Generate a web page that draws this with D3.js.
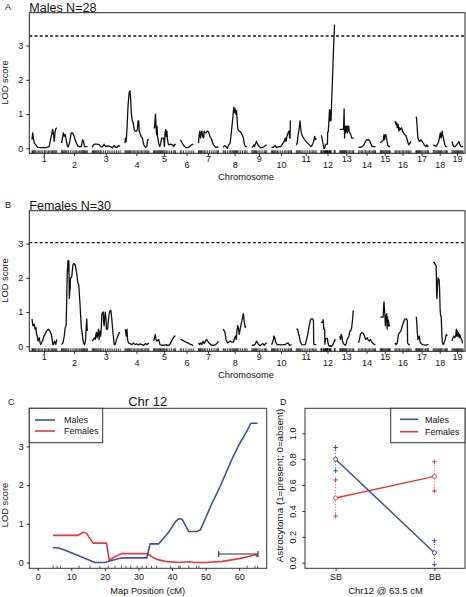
<!DOCTYPE html>
<html><head><meta charset="utf-8">
<script src="https://cdn.jsdelivr.net/npm/d3@7"></script>
<style>
body{margin:0;background:#fff}
svg{display:block}
text{font-family:"Liberation Sans",Arial,Helvetica,sans-serif;fill:#111}
</style>
</head><body><svg id="c" width="466" height="597"></svg>
<script>
// ---------------- DATA ----------------
const chromosomes = ["1","2","3","4","5","6","7","8","9","10","11","12","13","14","15","16","17","18","19"];
const chrLengths  = [108,113,122,104,96,58,87,104,65,87,87,60.9,61,74,43,70,55,61,48];
const chrFirst    = [0,0,0,0,0,0,0,0,0,0,0,4.6,0,0,0,0,0,0,0];
const chrGap = 21;

// Chr 12 detail (panel C)
const chr12Markers = [4.6,5.8,6.8,12.3,15.6,18.5,21,23,25,26.3,27.7,29.6,31.1,32.4,33.9,35.4,39.6,42,42.4,45,47.3,48,62.4,64.7,65.5];
const chr12Males = [[4.6,0.38],[6,0.38],[8,0.32],[10,0.25],[12,0.18],[14,0.11],[16.5,0.02],[17,0],[20,0],[22,0.05],[24.5,0.11],[26,0.12],[30,0.12],[32.5,0.12],[33.5,0.48],[36,0.48],[39,0.78],[41,1.05],[42,1.13],[43,1.12],[45,0.8],[47.5,0.8],[48.5,0.85],[50,1.15],[52,1.55],[54,1.9],[56,2.3],[58,2.7],[60,3.05],[62,3.35],[63.5,3.6],[65.5,3.6]];
const chr12Females = [[4.6,0.7],[8,0.7],[12,0.7],[13.5,0.78],[14.5,0.76],[16.5,0.5],[20.5,0.5],[21.3,0.06],[23,0.15],[25,0.23],[32.5,0.23],[34,0.15],[35.5,0.08],[38,0.03],[42,0.0],[45,0.02],[47,0.0],[50,0.0],[55,0.03],[60,0.1],[65,0.2],[65.5,0.14]];
const supportInterval = [53.9, 65.6];
const supportLOD = 0.22;

const malesLOD = [
 [[0,0.25],[3,0.45],[6,0.3],[10,0.15],[17,0.1],[25,0.03],[40,0.02],[60,0.02],[75,0.05],[82,0.3],[86,0.4],[90,0.55],[94,0.4],[97,0.2],[101,0.5],[105,0.58],[108,0.6]],
 [[0,0.15],[4,0.3],[8,0.45],[12,0.35],[16,0.4],[20,0.25],[26,0.05],[30,0.05],[36,0.2],[42,0.45],[48,0.45],[55,0.35],[62,0.2],[70,0.08],[78,0.05],[86,0.05],[92,0.25],[96,0.2],[100,0.05],[106,0.05],[113,0.05]],
 [[0,0.03],[5,0.1],[10,0.12],[20,0.12],[30,0.11],[38,0.04],[45,0.05],[52,0.12],[58,0.05],[66,0.07],[75,0.06],[82,0.04],[88,0.01],[95,0.08],[102,0.03],[108,0.03],[115,0.08],[122,0.05]],
 [[0,0.15],[2,0.3],[5,0.2],[9,0.6],[13,1.2],[17,1.55],[19,1.65],[22,1.68],[25,1.4],[28,1.0],[32,0.8],[36,0.75],[40,0.55],[44,0.5],[50,0.5],[54,0.55],[57,0.8],[60,0.8],[62,0.5],[65,0.45],[70,0.35],[76,0.3],[82,0.1],[90,0.03],[95,0.05],[99,0.25],[104,0.25]],
 [[0,0.6],[4,0.6],[8,1.0],[11,0.6],[13,0.4],[15,0.65],[17,0.35],[22,0.15],[27,0.05],[31,0.15],[35,0.3],[40,0.3],[44,0.3],[47,0.05],[50,0.45],[53,0.55],[55,0.35],[58,0.5],[60,0.3],[63,0.15],[67,0.1],[75,0.12],[82,0.1],[88,0.05],[92,0.12],[96,0.1]],
 [[0,0.25],[8,0.15],[16,0.07],[24,0.02],[32,0.02],[40,0.05],[48,0.1],[56,0.12]],
 [[0,0.15],[3,0.4],[6,0.5],[9,0.3],[12,0.45],[15,0.5],[18,0.35],[22,0.3],[25,0.5],[28,0.45],[32,0.45],[38,0.5],[44,0.48],[50,0.35],[56,0.28],[62,0.15],[68,0.08],[75,0.03],[82,0.03],[87,0.05]],
 [[0,0.03],[6,0.08],[12,0.05],[18,0.0],[24,0.1],[30,0.15],[36,0.5],[42,0.9],[46,1.2],[49,1.05],[52,1.15],[55,1.0],[58,1.1],[61,0.8],[64,0.55],[70,0.5],[76,0.48],[82,0.4],[88,0.3],[93,0.1],[98,0.05],[104,0.05]],
 [[0,0.02],[5,0.05],[8,0.1],[11,0.05],[15,0.12],[20,0.2],[25,0.12],[30,0.07],[38,0.02],[46,0.03],[54,0.05],[60,0.08],[65,0.1]],
 [[0,0.03],[8,0.03],[16,0.08],[22,0.02],[30,0.05],[40,0.05],[50,0.15],[55,0.2],[60,0.3],[63,0.2],[67,0.35],[72,0.45],[76,0.5],[79,0.3],[81,0.3],[82,0.8],[84,0.8]],
 [[0,0.1],[4,0.15],[8,0.4],[12,0.55],[16,0.8],[19,0.6],[22,0.45],[27,0.35],[32,0.3],[37,0.25],[42,0.2],[50,0.15],[57,0.1],[64,0.05],[70,0.1],[76,0.2],[80,0.35],[84,0.25],[87,0.3]],
 chr12Males,
 [[0,0.55],[8,0.55],[16,0.55],[19,1.15],[20,0.6],[21,0.3],[23,0.65],[25,0.45],[27,0.65],[29,0.5],[31,0.65],[33,0.45],[35,0.65],[37,0.5],[39,0.65],[41,0.5],[44,0.45],[48,0.4],[52,0.3],[56,0.3],[61,0.3]],
 [[0,0.03],[8,0.03],[16,0.05],[23,0.1],[30,0.2],[36,0.25],[44,0.25],[50,0.2],[56,0.1],[60,0.05],[67,0.05],[74,0.05]],
 [[0,0.15],[6,0.2],[12,0.22],[16,0.4],[18,0.25],[21,0.38],[24,0.4],[28,0.25],[33,0.08],[38,0.05],[43,0.05]],
 [[0,0.8],[4,0.7],[7,0.75],[10,0.6],[14,0.7],[17,0.5],[20,0.6],[24,0.55],[29,0.6],[33,0.5],[37,0.45],[42,0.4],[47,0.38],[51,0.3],[55,0.2],[60,0.1],[65,0.15],[70,0.2]],
 [[0,0.92],[3,0.9],[6,0.6],[9,0.3],[13,0.22],[17,0.2],[22,0.25],[27,0.2],[33,0.15],[38,0.08],[44,0.05],[48,0.1],[52,0.05],[55,0.05]],
 [[0,0.1],[6,0.08],[12,0.05],[18,0.12],[24,0.2],[28,0.35],[31,0.45],[34,0.3],[37,0.4],[39,0.5],[42,0.35],[45,0.3],[50,0.12],[55,0.05],[61,0.05]],
 [[0,0.2],[4,0.1],[8,0.05],[14,0.05],[20,0.1],[26,0.15],[30,0.2],[34,0.12],[40,0.05],[48,0.05]]
];

const femalesLOD = [
 [[0,0.8],[4,0.6],[9,0.65],[13,0.5],[17,0.55],[20,0.35],[23,0.3],[26,0.15],[28,0.2],[32,0.25],[35,0.1],[38,0.05],[42,0.12],[46,0.15],[52,0.3],[57,0.35],[64,0.45],[71,0.5],[78,0.45],[84,0.35],[88,0.2],[91,0.05],[94,0.05],[98,0.15],[102,0.1],[104,0.05],[108,0.2]],
 [[0,0.05],[6,0.1],[12,0.3],[16,0.55],[20,0.6],[23,1.5],[25,2.15],[28,2.5],[30,2.2],[32,2.5],[34,1.4],[36,1.6],[38,1.7],[39,2.0],[42,2.0],[45,2.05],[49,2.35],[53,2.42],[57,2.4],[61,2.35],[64,2.2],[67,2.1],[71,1.85],[75,1.8],[78,1.5],[81,1.2],[84,0.8],[87,0.5],[90,0.4],[93,0.2],[96,0.1],[100,0.05],[103,0.1],[105,0.2],[108,0.6],[110,0.8],[112,0.5],[113,0.45]],
 [[0,0.15],[5,0.2],[9,0.25],[13,0.2],[16,0.35],[19,0.4],[21,0.25],[23,0.3],[26,0.45],[28,0.5],[30,0.2],[32,0.3],[35,0.45],[37,0.3],[40,0.6],[42,0.95],[45,0.98],[48,1.0],[50,0.7],[52,0.6],[55,0.9],[57,1.0],[60,0.8],[62,0.5],[65,0.5],[67,0.5],[71,0.8],[74,0.95],[78,1.05],[81,1.05],[84,0.9],[86,0.75],[89,0.5],[92,0.3],[96,0.05],[100,0.05],[106,0.2],[112,0.3],[118,0.4],[122,0.4]],
 [[0,0.5],[3,0.45],[5,0.3],[6,0.45],[9,0.5],[11,0.2],[15,0.1],[22,0.08],[30,0.05],[37,0.1],[44,0.05],[52,0.07],[59,0.04],[66,0.07],[74,0.05],[82,0.03],[90,0.08],[97,0.05],[104,0.1]],
 [[0,0.15],[4,0.25],[7,0.35],[10,0.2],[15,0.15],[22,0.2],[28,0.05],[35,0.03],[45,0.03],[55,0.05],[62,0.02],[70,0.05],[78,0.15],[86,0.25],[92,0.3],[96,0.3]],
 [[0,0.2],[8,0.18],[16,0.15],[24,0.12],[32,0.1],[40,0.07],[48,0.05],[56,0.02]],
 [[0,0.1],[5,0.05],[10,0.1],[15,0.05],[20,0.15],[25,0.08],[30,0.15],[35,0.2],[40,0.15],[48,0.08],[56,0.03],[65,0.03],[75,0.05],[82,0.1],[87,0.15]],
 [[0,0.5],[4,0.45],[8,0.4],[12,0.2],[18,0.1],[24,0.12],[31,0.15],[38,0.12],[45,0.12],[50,0.25],[54,0.3],[57,0.2],[60,0.45],[63,0.6],[66,0.55],[70,0.35],[74,0.5],[78,0.65],[82,0.75],[86,0.9],[88,0.95],[92,0.7],[96,0.55],[98,0.6]],
 [[0,0.03],[8,0.03],[14,0.06],[20,0.15],[25,0.1],[30,0.05],[36,0.02],[42,0.05],[48,0.08],[54,0.03],[60,0.08],[65,0.1]],
 [[0,0.05],[4,0.1],[8,0.2],[10,0.3],[14,0.25],[18,0.12],[24,0.05],[32,0.05],[42,0.04],[52,0.05],[60,0.05],[66,0.08],[72,0.1],[78,0.03],[84,0.04],[87,0.05]],
 [[0,0.5],[3,0.5],[6,0.5],[10,0.35],[13,0.3],[17,0.15],[21,0.08],[25,0.05],[32,0.04],[39,0.05],[45,0.2],[50,0.35],[54,0.5],[58,0.65],[61,0.75],[65,0.8],[71,0.8],[75,0.75],[76,0.1],[78,0.05],[83,0.05],[87,0.05]],
 chr12Females,
 [[0,0.3],[3,0.2],[6,0.35],[9,0.3],[12,0.15],[16,0.08],[20,0.05],[24,0.03],[28,0.08],[32,0.2],[36,0.25],[40,0.3],[44,0.45],[48,0.45],[52,0.55],[56,0.8],[59,1.05]],
 [[0,0.1],[4,0.2],[8,0.35],[14,0.4],[20,0.38],[26,0.3],[30,0.2],[34,0.22],[38,0.25],[42,0.18],[46,0.15],[52,0.2],[58,0.12],[64,0.08],[70,0.05],[74,0.05]],
 [[0,0.85],[6,0.85],[12,0.85],[14,1.1],[16,1.3],[18,1.1],[20,0.9],[22,0.6],[24,0.9],[26,0.7],[28,0.95],[30,0.5],[32,0.85],[34,0.6],[36,0.75],[38,0.6],[40,0.6],[43,0.6]],
 [[0,0.1],[5,0.05],[10,0.1],[15,0.35],[20,0.4],[26,0.45],[32,0.6],[38,0.72],[44,0.8],[50,0.8],[54,0.75],[55,0.1],[60,0.05],[65,0.05]],
 [[0,0.85],[2,0.85],[4,0.7],[6,0.45],[9,0.2],[12,0.25],[15,0.3],[18,0.15],[22,0.08],[28,0.05],[36,0.04],[44,0.03],[50,0.05],[55,0.05]],
 [[0,2.45],[4,2.45],[8,2.4],[13,2.35],[15,1.5],[16,1.4],[18,1.7],[21,2.0],[23,1.95],[26,1.95],[28,1.6],[30,1.1],[32,0.9],[35,0.85],[38,0.3],[40,0.1],[43,0.05],[46,0.08],[50,0.15],[54,0.25],[57,0.35],[61,0.3]],
 [[0,0.15],[4,0.25],[8,0.3],[12,0.25],[16,0.3],[19,0.5],[21,0.3],[23,0.45],[25,0.3],[28,0.4],[31,0.25],[34,0.35],[38,0.25],[42,0.2],[46,0.1],[48,0.1]]
];

const markers = [
 [0,2,5,8,12,16,22,28,34,40,47,55,60,66,72,78,84,88,92,96,100,104,108],
 [0,4,8,12,16,20,24,30,38,46,54,60,66,72,78,84,88,92,96,100,104,108,113],
 [0,3,6,9,13,17,21,26,30,36,42,50,58,66,74,82,90,98,106,114,122],
 [0,4,8,12,16,20,25,30,36,42,48,54,60,66,72,78,84,90,96,100,104],
 [0,3,6,10,14,18,22,26,30,34,38,42,46,50,56,62,70,78,86,92,96],
 [0,6,14,24,34,42,50,58],
 [0,3,6,9,12,16,20,26,32,40,48,56,64,72,80,84,87],
 [0,4,10,18,26,32,38,42,46,50,54,58,62,68,76,84,92,98,104],
 [0,4,8,12,16,20,26,32,40,48,56,60,65],
 [0,4,8,12,16,20,26,32,40,48,56,62,68,74,80,84,87],
 [0,4,8,12,16,20,26,34,42,50,58,64,70,76,82,87],
 chr12Markers,
 [0,3,6,9,12,15,18,21,24,27,30,36,42,48,54,58,61],
 [0,6,12,18,24,30,36,42,48,54,60,66,70,74],
 [0,3,6,9,12,16,20,24,28,32,36,40,43],
 [0,4,8,14,20,26,32,38,44,50,56,60,65,70],
 [0,3,6,9,12,16,20,24,30,36,42,48,52,55],
 [0,4,8,12,16,20,24,28,32,36,42,48,54,58,61],
 [0,4,8,12,16,20,24,28,32,36,40,44,48]
];

const lodTicks = [0,1,2,3];
const thresholds = {males: 3.28, females: 3.03};

// Panel D
const genotypes = ["SB","BB"];
const maleMean  = [0.80, 0.077];
const maleUpper = [0.89, 0.17];
const maleLower = [0.71, -0.015];
const femaleMean  = [0.50, 0.667];
const femaleUpper = [0.64, 0.78];
const femaleLower = [0.36, 0.554];
const probTicks = [0,0.2,0.4,0.6,0.8,1.0];
const cmTicks = [0,10,20,30,40,50,60];

const BLUE = "#3c4fa3", RED = "#e23a3c";
const FONT = '"Liberation Sans",Arial,Helvetica,sans-serif';

// ---------------- DRAW ----------------
const svg = d3.select("#c");

const offsets = [];
{ let acc = 0; chrLengths.forEach((L,i)=>{ offsets.push(acc); acc += L + chrGap; }); }
const gpos = (i,p) => offsets[i] + (p - chrFirst[i]);
const total = offsets[18] + chrLengths[18];
const xG = d3.scaleLinear().domain([-11.8, total + 8.7]).range([29.3, 465]);

function styleAxis(g, size){
  g.attr("font-family", FONT).attr("font-size", size);
  g.select(".domain").remove();
  g.selectAll(".tick line").attr("stroke","#222");
  g.selectAll(".tick text").attr("fill","#111");
}

function genomePanel(dy, lod, thr, title, letter){
  const top = 12.7 + dy, bottom = 153.3 + dy;
  const y = d3.scaleLinear().domain([-0.146, 3.96]).range([bottom, top]);
  const g = svg.append("g");
  g.append("line").attr("x1",29.3).attr("x2",465).attr("y1",y(thr)).attr("y2",y(thr))
    .attr("stroke","#111").attr("stroke-width",1.3).attr("stroke-dasharray","3,2.2");
  const line = d3.line().x(d=>xG(d[0])).y(d=>y(d[1]));
  lod.forEach((pts,i)=>{
    g.append("path").attr("d", line(pts.map(p=>[gpos(i,p[0]),p[1]])))
      .attr("fill","none").attr("stroke","#111").attr("stroke-width",1.3).attr("stroke-linejoin","round");
  });
  markers.forEach((ms,i)=>{
    ms.forEach(m=>{
      g.append("line").attr("x1",xG(gpos(i,m))).attr("x2",xG(gpos(i,m)))
        .attr("y1",bottom).attr("y2",bottom-3).attr("stroke","#111").attr("stroke-width",0.8);
    });
  });
  g.append("rect").attr("x",29.3).attr("y",top).attr("width",465-29.3).attr("height",bottom-top)
    .attr("fill","none").attr("stroke","#222").attr("stroke-width",1);
  const ya = g.append("g").attr("transform",`translate(29.3,0)`)
    .call(d3.axisLeft(y).tickValues(lodTicks).tickSize(3).tickPadding(3).tickFormat(d3.format("d")));
  styleAxis(ya, 9);
  const mids = chromosomes.map((c,i)=>xG(offsets[i]+chrLengths[i]/2));
  const xa = g.append("g");
  mids.forEach((mx,i)=>{
    xa.append("line").attr("x1",mx).attr("x2",mx).attr("y1",bottom).attr("y2",bottom+2.5).attr("stroke","#222");
    xa.append("text").attr("x",mx).attr("y", bottom + (i%2===0 ? 8.3 : 15))
      .attr("text-anchor","middle").attr("font-size",9).text(chromosomes[i]);
  });
  g.append("text").attr("x",246).attr("y",179.5+dy).attr("text-anchor","middle").attr("font-size",9.3).text("Chromosome");
  g.append("text").attr("transform",`translate(7.5,${82.5+dy}) rotate(-90)`).attr("text-anchor","middle")
    .attr("font-size",9.3).text("LOD score");
  g.append("text").attr("x",29.3).attr("y",11.6+dy).attr("font-size",12.5).text(title);
  g.append("text").attr("x",5).attr("y",9.8+dy).attr("font-size",9).text(letter);
}

genomePanel(0, malesLOD, thresholds.males, "Males N=28", "A");
genomePanel(198, femalesLOD, thresholds.females, "Females N=30", "B");

// ---------------- Panel C ----------------
{
  const L=29.3, R=266.7, T=408.3, B=568.3;
  const x = d3.scaleLinear().domain([-2.5, 68.2]).range([L, R]);
  const y = d3.scaleLinear().domain([-0.15, 3.985]).range([B, T]);
  const g = svg.append("g");
  const line = d3.line().x(d=>x(d[0])).y(d=>y(d[1]));
  g.append("path").attr("d",line(chr12Females)).attr("fill","none").attr("stroke",RED).attr("stroke-width",1.6);
  g.append("path").attr("d",line(chr12Males)).attr("fill","none").attr("stroke",BLUE).attr("stroke-width",1.6);
  const sy = y(supportLOD);
  g.append("line").attr("x1",x(supportInterval[0])).attr("x2",x(supportInterval[1])).attr("y1",sy).attr("y2",sy)
    .attr("stroke","#333").attr("stroke-width",1.2);
  supportInterval.forEach(v=>{
    g.append("line").attr("x1",x(v)).attr("x2",x(v)).attr("y1",sy-3).attr("y2",sy+3).attr("stroke","#333").attr("stroke-width",1.2);
  });
  chr12Markers.forEach(m=>{
    g.append("line").attr("x1",x(m)).attr("x2",x(m)).attr("y1",B).attr("y2",B-2.6).attr("stroke","#333").attr("stroke-width",0.8);
  });
  g.append("rect").attr("x",L).attr("y",T).attr("width",R-L).attr("height",B-T).attr("fill","none").attr("stroke","#333");
  const ya = g.append("g").attr("transform",`translate(${L},0)`)
    .call(d3.axisLeft(y).tickValues(lodTicks).tickSize(2.5).tickPadding(3).tickFormat(d3.format("d")));
  styleAxis(ya, 9);
  const xa = g.append("g").attr("transform",`translate(0,${B})`)
    .call(d3.axisBottom(x).tickValues(cmTicks).tickSize(2.5).tickPadding(2.5).tickFormat(d3.format("d")));
  styleAxis(xa, 9);
  g.append("text").attr("x",147.7).attr("y",594).attr("text-anchor","middle").attr("font-size",9.3).text("Map Position (cM)");
  g.append("text").attr("transform",`translate(7.5,505) rotate(-90)`).attr("text-anchor","middle").attr("font-size",9.3).text("LOD score");
  g.append("text").attr("x",147.7).attr("y",406.3).attr("text-anchor","middle").attr("font-size",13).text("Chr 12");
  g.append("text").attr("x",8).attr("y",405).attr("font-size",9).text("C");
  g.append("rect").attr("x",L).attr("y",T).attr("width",102.7-L).attr("height",442.7-T).attr("fill","#fff").attr("stroke","#333");
  [["Males",BLUE,420],["Females",RED,431]].forEach(([t,c,yy])=>{
    g.append("line").attr("x1",35).attr("x2",55).attr("y1",yy).attr("y2",yy).attr("stroke",c).attr("stroke-width",1.6);
    g.append("text").attr("x",64).attr("y",yy+3.2).attr("font-size",9).text(t);
  });
}

// ---------------- Panel D ----------------
{
  const L=305, R=465, T=408.3, B=568.3;
  const x = d3.scaleLinear().domain([0.69, 2.31]).range([L, R]);
  const y = d3.scaleLinear().domain([-0.043, 1.193]).range([B, T]);
  const g = svg.append("g");
  const series = [
    {mean: femaleMean, up: femaleUpper, lo: femaleLower, col: RED},
    {mean: maleMean, up: maleUpper, lo: maleLower, col: BLUE}
  ];
  series.forEach(s=>{
    genotypes.forEach((gt,i)=>{
      const cx = x(i+1);
      g.append("line").attr("x1",cx).attr("x2",cx).attr("y1",y(s.lo[i])).attr("y2",y(s.up[i]))
        .attr("stroke",s.col).attr("stroke-width",0.9).attr("stroke-dasharray","1,1.8");
      [s.lo[i], s.up[i]].forEach(v=>{
        const cy = y(v);
        g.append("line").attr("x1",cx-2.3).attr("x2",cx+2.3).attr("y1",cy).attr("y2",cy).attr("stroke",s.col).attr("stroke-width",1);
        g.append("line").attr("x1",cx).attr("x2",cx).attr("y1",cy-2.3).attr("y2",cy+2.3).attr("stroke",s.col).attr("stroke-width",1);
      });
    });
    g.append("path").attr("d", d3.line().x((d,i)=>x(i+1)).y(d=>y(d))(s.mean))
      .attr("fill","none").attr("stroke",s.col).attr("stroke-width",1.5);
    s.mean.forEach((v,i)=>{
      g.append("circle").attr("cx",x(i+1)).attr("cy",y(v)).attr("r",2).attr("fill","#fff").attr("stroke",s.col).attr("stroke-width",1);
    });
  });
  g.append("rect").attr("x",L).attr("y",T).attr("width",R-L).attr("height",B-T).attr("fill","none").attr("stroke","#333");
  const ya = g.append("g").attr("transform",`translate(${L},0)`)
    .call(d3.axisLeft(y).tickValues(probTicks).tickSize(2.5).tickFormat(d3.format(".1f")));
  styleAxis(ya, 9);
  ya.selectAll(".tick text").attr("x",null).attr("dy",null).attr("text-anchor","middle")
    .attr("transform","translate(-9,0) rotate(-90)").attr("y",0);
  const xa = g.append("g").attr("transform",`translate(0,${B})`)
    .call(d3.axisBottom(x).tickValues([1,2]).tickSize(2.5).tickPadding(2.5).tickFormat((d,i)=>genotypes[i]));
  styleAxis(xa, 9);
  g.append("text").attr("x",385.5).attr("y",594).attr("text-anchor","middle").attr("font-size",9.5).text("Chr12 @ 63.5 cM");
  g.append("text").attr("transform",`translate(283,485.5) rotate(-90)`).attr("text-anchor","middle").attr("font-size",9.8)
    .text("Astrocytoma (1=present; 0=absent)");
  g.append("text").attr("x",280).attr("y",405).attr("font-size",9).text("D");
  g.append("rect").attr("x",390.7).attr("y",T).attr("width",R-390.7).attr("height",442.7-T).attr("fill","#fff").attr("stroke","#333");
  [["Males",BLUE,419.3],["Females",RED,431.7]].forEach(([t,c,yy])=>{
    g.append("line").attr("x1",400).attr("x2",418.3).attr("y1",yy).attr("y2",yy).attr("stroke",c).attr("stroke-width",1.6);
    g.append("text").attr("x",425).attr("y",yy+3.2).attr("font-size",9).text(t);
  });
}
</script>
</body></html>
